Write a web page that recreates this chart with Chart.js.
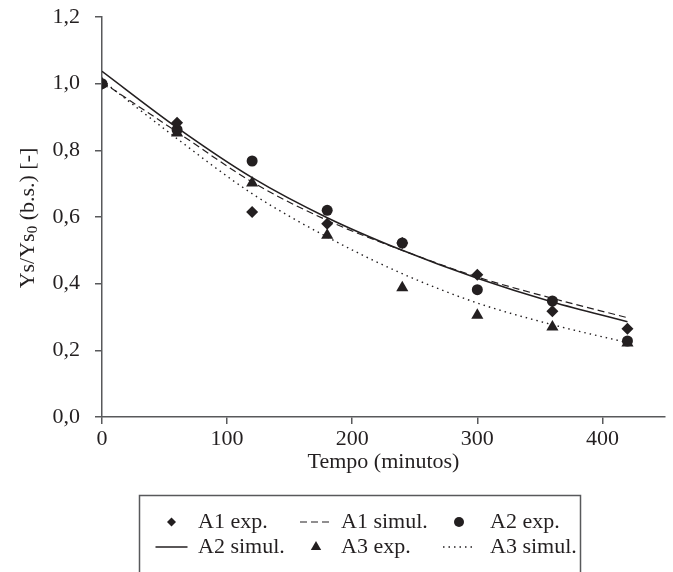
<!DOCTYPE html>
<html>
<head>
<meta charset="utf-8">
<title>Ys/Ys0 vs tempo</title>
<script src="https://cdn.jsdelivr.net/npm/chart.js@4.4.0/dist/chart.umd.min.js"></script>
<style>
  html, body { margin: 0; padding: 0; background: #fff; }
  #wrap { width: 673px; height: 572px; }
</style>
</head>
<body>
<div id="wrap"><canvas id="chart" width="673" height="572"></canvas></div>
<script>
// experimental points (minutes)
const expTimes = [0, 60, 120, 180, 240, 300, 360, 420];
const a1Exp = [1.0, 0.883, 0.615, 0.58, 0.522, 0.427, 0.317, 0.265];
const a2Exp = [1.0, 0.862, 0.768, 0.62, 0.522, 0.382, 0.348, 0.228];
const a3Exp = [1.0, 0.852, 0.702, 0.545, 0.388, 0.305, 0.27, 0.222];

// simulated curves
const simTimes = [0, 60, 120, 180, 240, 300, 360, 420];
const a1Sim = [1.005, 0.855, 0.705, 0.59, 0.5, 0.42, 0.356, 0.298];
const a2Sim = [1.037, 0.868, 0.718, 0.598, 0.5, 0.416, 0.345, 0.286];
const a3Sim = [1.01, 0.835, 0.67, 0.54, 0.43, 0.342, 0.277, 0.223];

const seriesLabels = ['A1 exp.', 'A1 simul.', 'A2 exp.', 'A2 simul.', 'A3 exp.', 'A3 simul.'];
const xTitle = 'Tempo (minutos)';
const yTitleParts = ['Ys/Ys', '0', ' (b.s.) [-]'];

const ink = '#231f20';
const axisGrey = '#58595b';
const serif = '"Liberation Serif", "Times New Roman", serif';

function pairs(xs, ys) {
  return xs.map((x, i) => ({ x: x, y: ys[i] }));
}

function pointSet(label, xs, ys, style, r) {
  return {
    label: label,
    data: pairs(xs, ys),
    showLine: false,
    pointStyle: style,
    pointRadius: r,
    pointBackgroundColor: ink,
    pointBorderColor: ink,
    pointBorderWidth: 0,
    order: 1
  };
}

function curveSet(label, xs, ys, dash, w) {
  return {
    label: label,
    data: pairs(xs, ys),
    showLine: true,
    borderColor: ink,
    borderWidth: w,
    borderDash: dash,
    pointRadius: 0,
    cubicInterpolationMode: 'monotone',
    fill: false,
    order: 2
  };
}

// y title has a subscript so it is drawn by hand
const yTitlePlugin = {
  id: 'yTitle',
  afterDraw(chart) {
    const ctx = chart.ctx;
    const sizes = [22, 15, 22];
    const shift = [0, 5, 0];
    ctx.save();
    ctx.translate(28, 218);
    ctx.rotate(-Math.PI / 2);
    ctx.fillStyle = ink;
    ctx.textBaseline = 'middle';
    let total = 0;
    yTitleParts.forEach((t, i) => {
      ctx.font = sizes[i] + 'px ' + serif;
      total += ctx.measureText(t).width;
    });
    let x = -total / 2;
    yTitleParts.forEach((t, i) => {
      ctx.font = sizes[i] + 'px ' + serif;
      ctx.fillText(t, x, shift[i]);
      x += ctx.measureText(t).width;
    });
    ctx.restore();
  }
};

// boxed legend, 3 columns x 2 rows
const boxLegendPlugin = {
  id: 'boxLegend',
  afterDraw(chart) {
    const ctx = chart.ctx;
    const symX = [171.5, 316, 459];
    const textX = [198, 341, 490];
    const rowY = [522, 547];
    const legendR = { rectRot: 4.5, circle: 5, triangle: 6 };
    ctx.save();
    ctx.strokeStyle = axisGrey;
    ctx.lineWidth = 1.5;
    ctx.strokeRect(139.5, 495.5, 441, 100);
    ctx.font = '22px ' + serif;
    ctx.textBaseline = 'middle';
    chart.data.datasets.forEach((ds, i) => {
      const col = i % 3;
      const row = Math.floor(i / 3);
      const cx = symX[col];
      const cy = rowY[row];
      ctx.fillStyle = ink;
      ctx.strokeStyle = ink;
      if (ds.showLine) {
        ctx.lineWidth = ds.borderWidth;
        ctx.setLineDash(ds.borderDash || []);
        ctx.beginPath();
        ctx.moveTo(cx - 16, cy);
        ctx.lineTo(cx + 16, cy);
        ctx.stroke();
        ctx.setLineDash([]);
      } else {
        Chart.helpers.drawPoint(ctx, {
          pointStyle: ds.pointStyle,
          radius: legendR[ds.pointStyle],
          rotation: 0,
          borderWidth: 0
        }, cx, cy);
      }
      ctx.fillStyle = ink;
      ctx.fillText(ds.label, textX[col], cy);
    });
    ctx.restore();
  }
};

const config = {
  type: 'scatter',
  data: {
    datasets: [
      pointSet(seriesLabels[0], expTimes, a1Exp, 'rectRot', 6),
      curveSet(seriesLabels[1], simTimes, a1Sim, [7, 4], 1.2),
      pointSet(seriesLabels[2], expTimes, a2Exp, 'circle', 5.5),
      curveSet(seriesLabels[3], simTimes, a2Sim, [], 1.6),
      pointSet(seriesLabels[4], expTimes, a3Exp, 'triangle', 7),
      curveSet(seriesLabels[5], simTimes, a3Sim, [1.5, 4], 1.4)
    ]
  },
  options: {
    responsive: false,
    animation: false,
    devicePixelRatio: 1,
    layout: { padding: { top: 17, right: 8, bottom: 97, left: 0 } },
    plugins: {
      legend: { display: false },
      tooltip: { enabled: false }
    },
    scales: {
      x: {
        type: 'linear',
        min: 0,
        max: 450,
        afterBuildTicks: (axis) => {
          axis.ticks = axis.ticks.filter((t) => t.value <= 400);
        },
        afterFit: (axis) => { axis.height = 58; },
        ticks: {
          stepSize: 100,
          color: ink,
          padding: 2,
          font: { family: serif, size: 22 }
        },
        grid: { drawOnChartArea: false, tickLength: 7, color: axisGrey, lineWidth: 1.5 },
        border: { color: axisGrey, width: 1.5 },
        title: {
          display: true,
          text: xTitle,
          color: ink,
          font: { family: serif, size: 22 },
          padding: { top: 0, bottom: 0 }
        }
      },
      y: {
        type: 'linear',
        min: 0,
        max: 1.2,
        afterFit: (axis) => {
          axis.width = 102;
          axis.paddingTop = 0;
          axis.paddingBottom = 0;
        },
        ticks: {
          stepSize: 0.2,
          color: ink,
          padding: 15,
          font: { family: serif, size: 22 },
          callback: (v) => v.toFixed(1).replace('.', ',')
        },
        grid: { drawOnChartArea: false, tickLength: 7, color: axisGrey, lineWidth: 1.5 },
        border: { color: axisGrey, width: 1.5 }
      }
    }
  },
  plugins: [yTitlePlugin, boxLegendPlugin]
};

document.addEventListener('DOMContentLoaded', () => {
  const chart = new Chart(document.getElementById('chart'), config);
});
</script>
</body>
</html>
